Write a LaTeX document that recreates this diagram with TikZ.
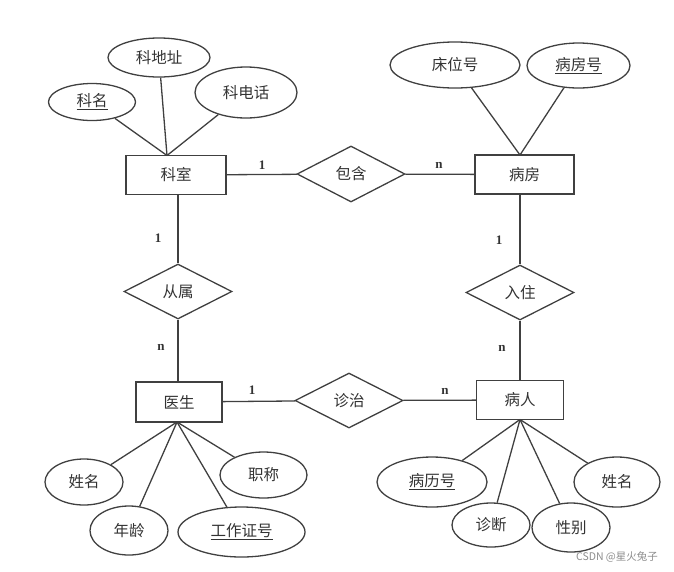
\documentclass[tikz,border=0pt]{standalone}
\usepackage{fontspec}
\setmainfont{Liberation Serif}
\newfontfamily\cjk{Noto Sans CJK SC}
\usetikzlibrary{shapes.geometric}
\begin{document}
\begin{tikzpicture}[x=1pt,y=-1pt,
  line width=1.3pt,
  ln/.style={draw=black!75},
  cjkfont/.style={font=\cjk\fontsize{15.5}{16}\selectfont, text=black!80},
  ent/.style={draw=black!75, rectangle, inner sep=0pt, cjkfont},
  rel/.style={draw=black!75, diamond, inner sep=0pt, minimum width=108pt, minimum height=56pt, cjkfont},
  attr/.style={draw=black!75, ellipse, inner sep=0pt, cjkfont},
  card/.style={font=\fontsize{13}{13}\selectfont\bfseries, text=black!80, inner sep=0pt},
  wm/.style={font=\cjk\fontsize{10.5}{11}\selectfont, text=black!45, inner sep=0pt}
]
\useasboundingbox (0,0) rectangle (674,571);

% entities
\node[ent, minimum width=100pt, minimum height=39pt] (ks) at (176,175) {科室};
\node[ent, minimum width=99pt, minimum height=39pt] (bf) at (524.5,174.5) {病房};
\node[ent, minimum width=86pt, minimum height=40pt] (ys) at (179,402) {医生};
\node[ent, minimum width=87pt, minimum height=39pt] (br) at (520,400) {病人};

% relationships
\node[rel] (bh) at (351,174) {包含};
\node[rel, minimum height=55pt] (cs) at (178,291.5) {从属};
\node[rel, minimum height=55pt] (rz) at (520,292.5) {入住};
\node[rel, minimum height=55pt] (zz) at (349,400.5) {诊治};

% attributes
\node[attr, minimum width=87pt, minimum height=37pt] (km) at (92,102) {\underline{科名}};
\node[attr, minimum width=102pt, minimum height=39pt] (kdz) at (159,57.5) {科地址};
\node[attr, minimum width=102pt, minimum height=51pt] (kdh) at (246,92.5) {科电话};
\node[attr, minimum width=130pt, minimum height=46pt] (cwh) at (455,65) {床位号};
\node[attr, minimum width=103pt, minimum height=45pt] (bfh) at (578.5,65.5) {\underline{病房号}};
\node[attr, minimum width=78pt, minimum height=46pt] (xma) at (84,482) {姓名};
\node[attr, minimum width=78pt, minimum height=49pt] (nl) at (129,530.5) {年龄};
\node[attr, minimum width=127pt, minimum height=50pt] (gzz) at (241.5,532) {\underline{工作证号}};
\node[attr, minimum width=87pt, minimum height=46pt] (zc) at (263.5,475) {职称};
\node[attr, minimum width=110pt, minimum height=50pt] (blh) at (432,482) {\underline{病历号}};
\node[attr, minimum width=78pt, minimum height=44pt] (zd) at (491,525) {诊断};
\node[attr, minimum width=78pt, minimum height=49pt] (xb) at (571,527.5) {性别};
\node[attr, minimum width=86pt, minimum height=50pt] (xmb) at (617,482) {姓名};

% convergence points
\coordinate (ksT) at (167,155.5);
\coordinate (bfT) at (520,155);
\coordinate (ysB) at (177,422);
\coordinate (brB) at (520,419.5);

% attribute connectors
\draw[ln] (km) -- (ksT);
\draw[ln] (kdz) -- (ksT);
\draw[ln] (kdh) -- (ksT);
\draw[ln] (cwh) -- (bfT);
\draw[ln] (bfh) -- (bfT);
\draw[ln] (xma) -- (ysB);
\draw[ln] (nl) -- (ysB);
\draw[ln] (gzz) -- (ysB);
\draw[ln] (zc) -- (ysB);
\draw[ln] (blh) -- (brB);
\draw[ln] (zd) -- (brB);
\draw[ln] (xb) -- (brB);
\draw[ln] (xmb) -- (brB);

% relationship connectors
\draw[ln] (ks) -- (bh);
\draw[ln] (bh) -- (bf);
\draw[ln] (ks.south -| cs.north) -- (cs.north);
\draw[ln] (cs.south) -- (ys.north -| cs.south);
\draw[ln] (bf.south -| rz.north) -- (rz.north);
\draw[ln] (rz.south) -- (br.north -| rz.south);
\draw[ln] (ys) -- (zz);
\draw[ln] (zz) -- (br);

% cardinalities
\node[card] (c1) at (262,165) {1};
\node[card] (c2) at (439,165) {n};
\node[card] (c3) at (158,238) {1};
\node[card] (c4) at (499,240) {1};
\node[card] (c5) at (161,347) {n};
\node[card] (c6) at (502,348) {n};
\node[card] (c7) at (252,390) {1};
\node[card] (c8) at (445,391) {n};

% watermark
\node[wm] (wmk) at (617,557) {CSDN @星火兔子};
\end{tikzpicture}
\end{document}
